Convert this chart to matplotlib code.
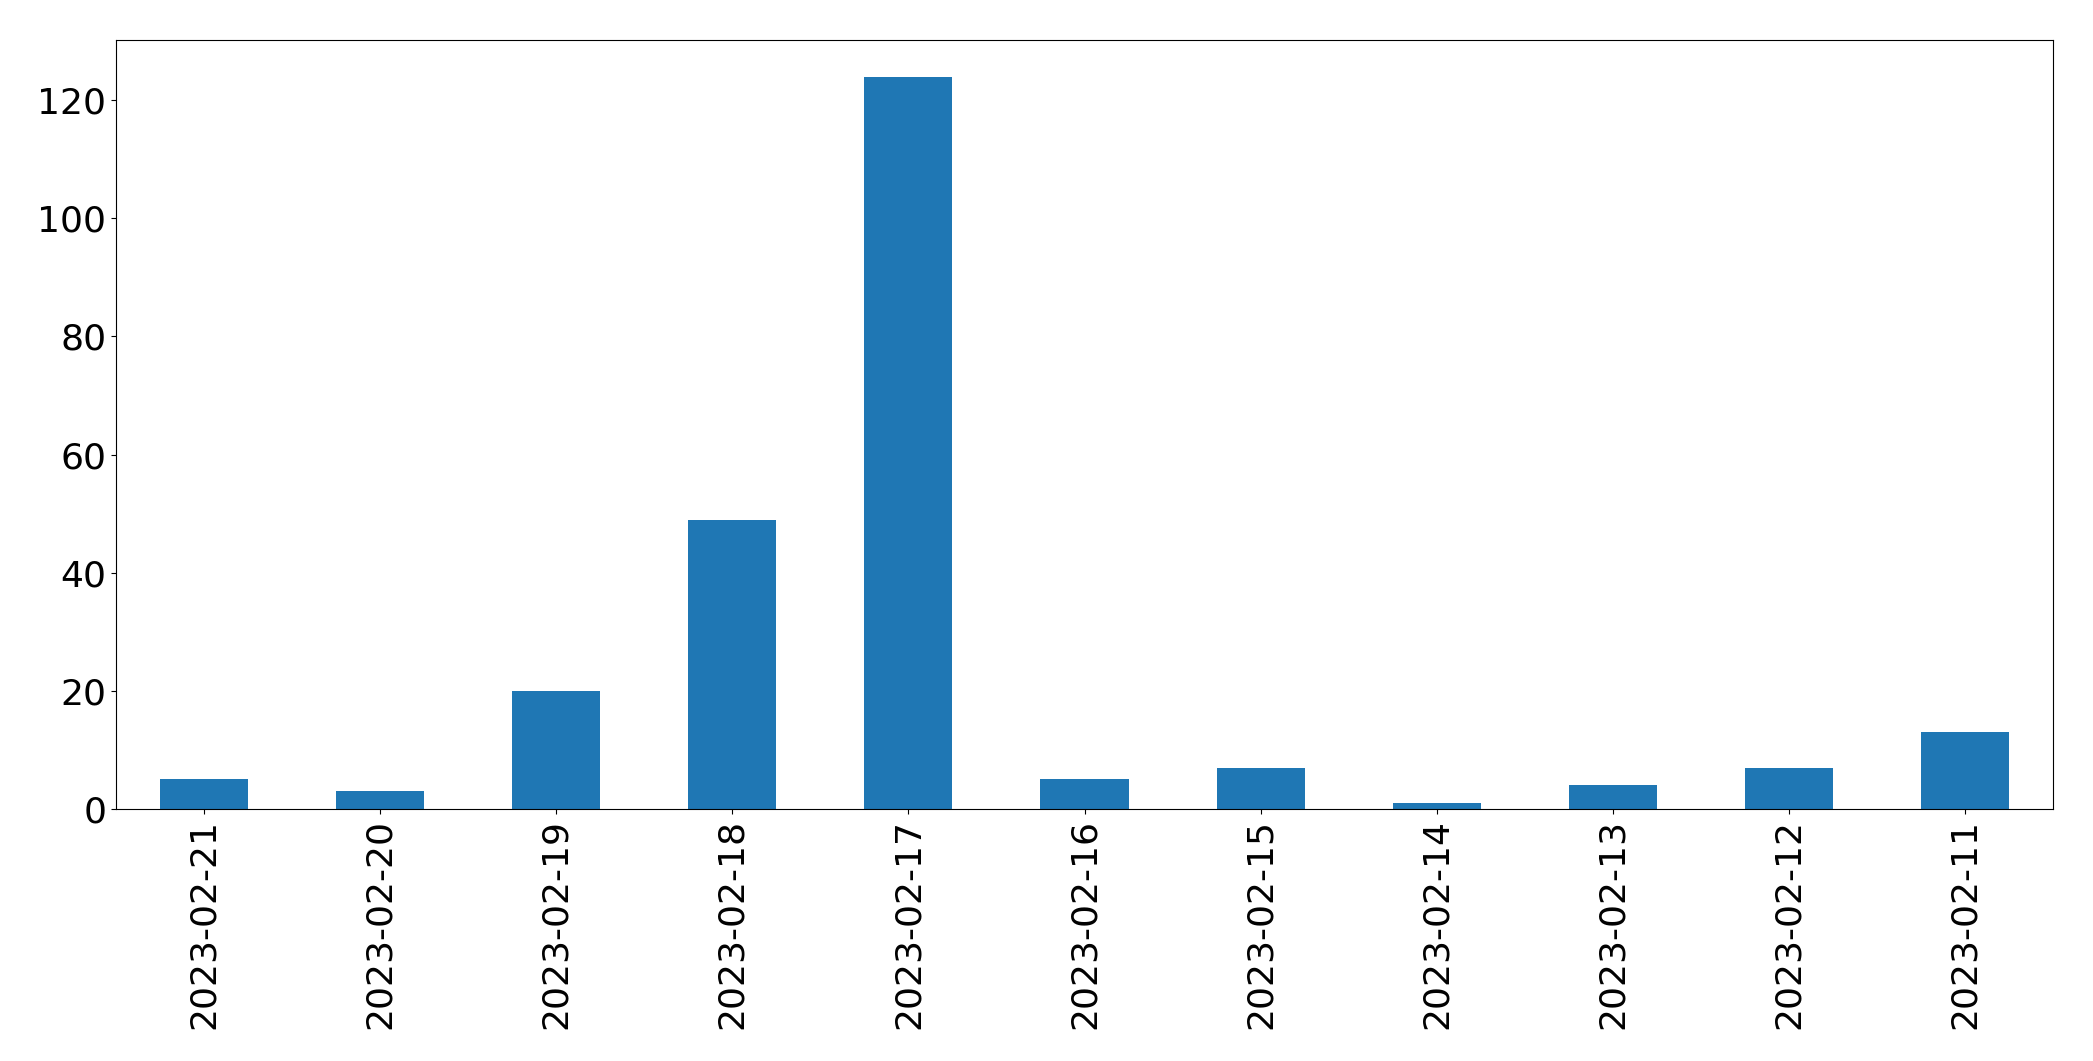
import matplotlib
matplotlib.use("Agg")
import matplotlib.pyplot as plt
import numpy as np

dates = ["2023-02-21", "2023-02-20", "2023-02-19", "2023-02-18", "2023-02-17",
         "2023-02-16", "2023-02-15", "2023-02-14", "2023-02-13", "2023-02-12",
         "2023-02-11"]
counts = [5, 3, 20, 49, 124, 5, 7, 1, 4, 7, 13]

fig = plt.figure(figsize=(20.93, 10.61), dpi=100)
ax = fig.add_axes([116/2093, 1 - 809/1061, (2053-116)/2093, (809-40)/1061])
x = np.arange(len(dates))
ax.bar(x, counts, width=0.5, color="#1f77b4")
ax.set_xlim(-0.5, len(dates) - 0.5)
ax.set_ylim(0, max(counts) * 1.05)
ax.set_xticks(x)
ax.set_xticklabels(dates, rotation=90)
ax.set_yticks([0, 20, 40, 60, 80, 100, 120])
ax.tick_params(axis="both", labelsize=26)
fig.savefig("out.png", dpi=100)
